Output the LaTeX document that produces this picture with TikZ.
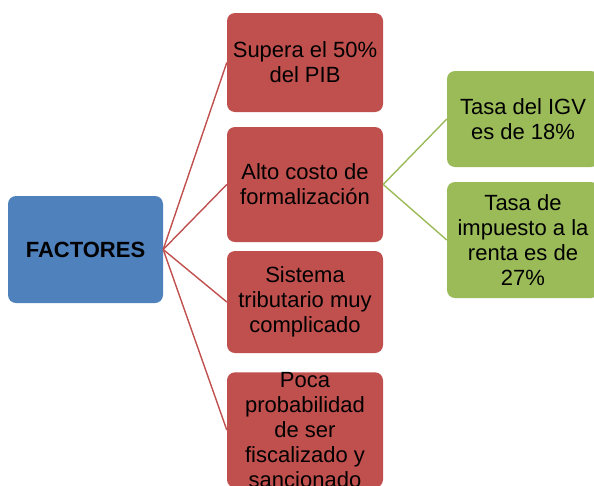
\documentclass[tikz,border=0pt]{standalone}
\usepackage{fontspec}
\setmainfont{Liberation Sans}
\usetikzlibrary{positioning}
\definecolor{blueF}{HTML}{4F81BD}
\definecolor{redF}{HTML}{C0504D}
\definecolor{greenF}{HTML}{9BBB59}
\begin{document}
\begin{tikzpicture}[x=1pt, y=-1pt,
        box/.style={rounded corners=8pt, inner sep=0pt, align=center,
                    font=\fontsize{22}{25}\selectfont, minimum width=155pt},
        mainbox/.style={box, fill=blueF, minimum height=107pt, font=\fontsize{22}{25}\selectfont\bfseries},
        redbox/.style={box, fill=redF, minimum width=156pt},
        greenbox/.style={box, fill=greenF, minimum width=152pt},
        redline/.style={draw=redF, line width=1.4pt},
        greenline/.style={draw=greenF, line width=1.4pt}]
        \useasboundingbox (0,0) rectangle (594,485);
        \clip (0,0) rectangle (594,485);
        % Nodes
        \node[mainbox] (fac) at (85.5,249.5) {FACTORES};
        \node[redbox, minimum height=99pt] (pib) at (305,62.5) {Supera el 50\%\\del PIB};
        \node[redbox, minimum height=115pt] (costo) at (305,184.5) {Alto costo de\\formalización};
        \node[redbox, minimum height=102pt] (sist) at (305,302) {Sistema\\tributario muy\\complicado};
        \node[redbox, minimum height=112pt] (poca) at (305,430) {Poca\\probabilidad\\de ser\\fiscalizado y\\sancionado};
        \node[greenbox, minimum height=96pt] (igv) at (523,119) {Tasa del IGV\\es de 18\%};
        \node[greenbox, minimum height=116pt] (renta) at (523,240) {Tasa de\\impuesto a la\\renta es de\\27\%};

        % Edges
        \draw[redline] (fac.east) -- (pib.west);
        \draw[redline] (fac.east) -- (costo.west);
        \draw[redline] (fac.east) -- (sist.west);
        \draw[redline] (fac.east) -- (poca.west);
        \draw[greenline] (costo.east) -- (igv.west);
        \draw[greenline] (costo.east) -- (renta.west);
    \end{tikzpicture}
\end{document}
